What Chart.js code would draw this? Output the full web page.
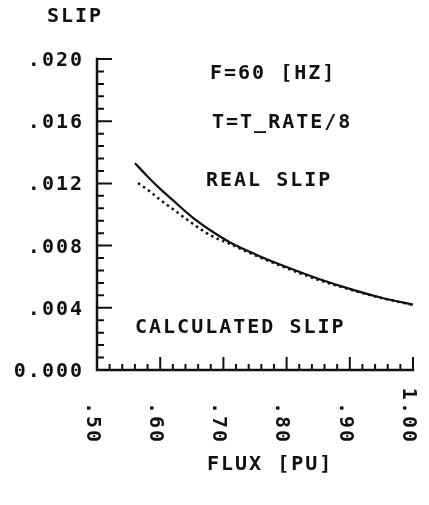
<!DOCTYPE html>
<html>
<head>
<meta charset="utf-8">
<script src="https://cdn.jsdelivr.net/npm/chart.js@4.4.1/dist/chart.umd.min.js"></script>
<style>
  html,body{margin:0;padding:0;background:#fff;}
  #wrap{width:429px;height:505px;}
</style>
</head>
<body>
<div id="wrap"><canvas id="slipChart" width="429" height="505"></canvas></div>
<script>
/* =========================================================
   DATA
========================================================= */

const fluxReal = [0.56, 0.58, 0.60, 0.62, 0.65, 0.68, 0.71, 0.75, 0.80, 0.85, 0.90, 0.95, 1.00];
const slipReal = [0.01330, 0.01245, 0.01165, 0.01092, 0.00985, 0.00897, 0.00822, 0.00745, 0.00662, 0.00587, 0.00522, 0.00465, 0.00420];

const fluxCalc = [0.565, 0.58, 0.60, 0.62, 0.65, 0.68, 0.71, 0.75, 0.80, 0.85, 0.90, 0.95, 1.00];
const slipCalc = [0.01202, 0.01160, 0.01095, 0.01035, 0.00945, 0.00865, 0.00812, 0.00738, 0.00655, 0.00580, 0.00518, 0.00463, 0.00418];

const xTicks = [0.50, 0.60, 0.70, 0.80, 0.90, 1.00];
const xTickLabels = [".50", ".60", ".70", ".80", ".90", "1.00"];
const xMinorStep = 0.02;

const yTicks = [0, 0.004, 0.008, 0.012, 0.016, 0.020];
const yTickLabels = ["0.000", ".004", ".008", ".012", ".016", ".020"];
const yMinorStep = 0.0008;

const yTitle = "SLIP";
const xTitle = "FLUX [PU]";
const noteFreq = "F=60 [HZ]";
const noteLoad = "T=T_RATE/8";
const noteReal = "REAL SLIP";
const noteCalc = "CALCULATED SLIP";

/* =========================================================
   STYLE
========================================================= */

const INK = "#111";
const FONT = "bold 20px 'DejaVu Sans Mono'";
const SPACING = 2;
const HALF_CAP = 7;

function toPoints(xs, ys){
  return xs.map((x, i) => ({ x:x, y:ys[i] }));
}

/* =========================================================
   PLOTTER AXES + TEXT
========================================================= */

const plotterAxes = {
  id:"plotterAxes",
  afterDraw(chart){

    const ctx = chart.ctx;
    const xs = chart.scales.x;
    const ys = chart.scales.y;

    const x0 = xs.getPixelForValue(xs.min);
    const x1 = xs.getPixelForValue(xs.max);
    const y0 = ys.getPixelForValue(ys.min);
    const y1 = ys.getPixelForValue(ys.max);

    ctx.save();
    ctx.strokeStyle = INK;
    ctx.fillStyle = INK;
    ctx.lineCap = "square";

    /* axis lines */
    ctx.lineWidth = 2.5;
    ctx.beginPath();
    ctx.moveTo(x0, y1);
    ctx.lineTo(x0, y0);
    ctx.lineTo(x1, y0);
    ctx.stroke();

    /* tick marks, pointing inward */
    ctx.lineWidth = 2;
    ctx.lineCap = "butt";
    ctx.beginPath();
    const nx = Math.round((xs.max - xs.min) / xMinorStep);
    for(let i = 1; i <= nx; i++){
      const px = xs.getPixelForValue(xs.min + i * xMinorStep);
      const major = i % 5 === 0;
      ctx.moveTo(px, y0);
      ctx.lineTo(px, y0 - (major ? 13 : 6));
    }
    const ny = Math.round((ys.max - ys.min) / yMinorStep);
    for(let i = 1; i <= ny; i++){
      const py = ys.getPixelForValue(ys.min + i * yMinorStep);
      const major = i % 5 === 0;
      ctx.moveTo(x0, py);
      ctx.lineTo(x0 + (major ? 15 : 7), py);
    }
    ctx.stroke();

    /* text */
    ctx.font = FONT;
    ctx.letterSpacing = SPACING + "px";
    ctx.textBaseline = "alphabetic";

    ctx.textAlign = "right";
    yTicks.forEach((v, i) => {
      ctx.fillText(yTickLabels[i], 82 + SPACING, ys.getPixelForValue(v) + HALF_CAP);
    });

    xTicks.forEach((v, i) => {
      ctx.save();
      ctx.translate(xs.getPixelForValue(v) - 5, 442);
      ctx.rotate(Math.PI / 2);
      ctx.textAlign = "right";
      ctx.textBaseline = "middle";
      ctx.fillText(xTickLabels[i], SPACING, 0);
      ctx.restore();
    });

    ctx.textAlign = "left";
    ctx.fillText(yTitle, 47, 22);
    ctx.fillText(noteFreq, 210, 79);
    ctx.fillText(noteLoad, 212, 128);
    ctx.fillText(noteReal, 206, 186);
    ctx.fillText(noteCalc, 135, 333);
    ctx.fillText(xTitle, 207, 470);

    ctx.restore();
  }
};

/* =========================================================
   CHART
========================================================= */

const chart = new Chart(document.getElementById("slipChart").getContext("2d"), {

  type:"line",

  data:{
    datasets:[
      {
        label:noteReal,
        data:toPoints(fluxReal, slipReal),
        borderColor:INK,
        borderWidth:2.2,
        pointRadius:0,
        cubicInterpolationMode:"monotone",
        fill:false
      },
      {
        label:noteCalc,
        data:toPoints(fluxCalc, slipCalc),
        borderColor:INK,
        borderWidth:2.5,
        borderDash:[2.5, 3.5],
        pointRadius:0,
        cubicInterpolationMode:"monotone",
        fill:false
      }
    ]
  },

  options:{
    responsive:false,
    animation:false,
    layout:{
      padding:{ left:97, top:59, right:16, bottom:135 }
    },
    plugins:{
      legend:{ display:false },
      tooltip:{ enabled:false }
    },
    scales:{
      x:{ type:"linear", min:0.5, max:1.0, display:false },
      y:{ type:"linear", min:0, max:0.020, display:false }
    }
  },

  plugins:[plotterAxes]

});
</script>
</body>
</html>
